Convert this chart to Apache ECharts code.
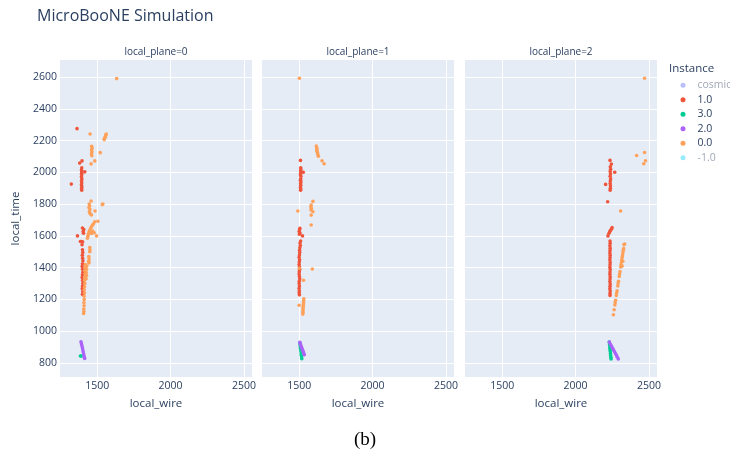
<!DOCTYPE html>
<html>
<head>
<meta charset="utf-8">
<script src="https://cdn.jsdelivr.net/npm/echarts@6/dist/echarts.min.js"></script>
<style>
  html, body { margin: 0; padding: 0; background: #fff; }
  #chart { width: 730px; height: 458px; }
</style>
</head>
<body>
<div id="chart"></div>
<script>
"use strict"

const instNames = ["cosmic", "1.0", "3.0", "2.0", "0.0", "-1.0"];
const instColors = ["#636EFA", "#EF553B", "#00CC96", "#AB63FA", "#FFA15A", "#19D3F3"];
const hiddenInst = ["cosmic", "-1.0"];
const planeTitles = ["local_plane=0", "local_plane=1", "local_plane=2"];
const xTicks = [1500, 2000, 2500];
const yTicks = [800, 1000, 1200, 1400, 1600, 1800, 2000, 2200, 2400, 2600];
const xRange = [1247, 2555];
const yRange = [712, 2707];

// plane 0
const p0_inst1 = [[1363,2275],[1397,2072],[1381,2058],[1395,2028],[1393,2015],[1396,2005],[1416,2003],[1394,1995],[1395,1985],
  [1393,1972],[1396,1960],[1394,1948],[1395,1935],[1393,1922],[1396,1910],[1394,1898],[1395,1888],[1324,1926],
  [1400,1650],[1409,1640],[1405,1628],[1407,1617],[1366,1600],[1386,1565],[1397,1565],[1401,1562],[1397,1544],
  [1400,1513],[1402,1495],[1399,1478],[1401,1460],[1403,1443],[1400,1425],[1398,1408],[1401,1390],[1403,1372],
  [1400,1355],[1398,1338],[1401,1320],[1403,1302],[1400,1285],[1399,1268],[1402,1250],[1400,1232]];
const p0_inst3 = [[1386,844],[1392,844]];
const p0_inst2 = [[1390,934],[1393,922],[1396,910],[1399,897],[1402,884],[1405,871],[1408,858],[1411,845],[1413,835],[1415,828]];
const p0_inst0 = [[1633,2590],[1452,2241],[1548,2206],[1551,2213],[1554,2221],[1557,2229],[1560,2236],[1562,2241],
  [1463,2164],[1466,2152],[1462,2140],[1465,2128],[1461,2116],[1464,2104],[1521,2124],[1459,2053],[1484,2072],
  [1459,1820],[1446,1801],[1449,1790],[1444,1778],[1451,1766],[1447,1752],[1452,1740],[1461,1732],[1486,1757],
  [1539,1801],[1535,1797],[1505,1692],
  [1434,1585],[1437,1598],[1440,1610],[1444,1622],[1449,1634],[1455,1646],[1461,1657],[1468,1667],[1475,1676],
  [1484,1689],[1480,1620],[1470,1630],[1462,1615],[1496,1600],
  [1450,1527],[1451,1512],[1450,1500],[1443,1470],[1445,1455],[1443,1440],[1444,1430],
  [1430,1410],[1428,1390],[1426,1370],[1428,1350],[1425,1330],[1420,1420],[1418,1400],[1416,1380],[1418,1360],
  [1416,1340],[1414,1320],[1416,1300],[1414,1280],[1412,1260],[1414,1240],[1411,1220],[1412,1200],[1410,1180],
  [1411,1160],[1409,1140],[1410,1125],[1408,1112]];

// plane 1
const p1_inst1 = [[1509,2075],[1511,2029],[1512,2018],[1510,2008],[1528,2001],[1511,1995],[1509,1985],[1512,1975],
  [1511,1960],[1509,1950],[1512,1940],[1510,1930],[1511,1918],[1509,1905],[1511,1895],[1510,1888],
  [1505,1648],[1503,1638],[1500,1628],[1506,1618],[1502,1610],[1523,1600],
  [1510,1568],[1506,1555],[1508,1540],[1505,1525],[1503,1510],[1504,1495],[1502,1480],[1500,1465],[1503,1450],
  [1501,1435],[1500,1420],[1502,1405],[1504,1390],[1501,1375],[1500,1360],[1502,1345],[1504,1330],[1501,1315],
  [1500,1300],[1502,1285],[1500,1270],[1501,1255],[1500,1242],[1502,1229]];
const p1_inst3 = [[1505,926],[1507,915],[1508,904],[1510,893],[1511,882],[1513,871],[1514,860],[1515,849],[1517,838],[1518,827]];
const p1_inst2 = [[1505,930],[1508,920],[1512,910],[1516,900],[1520,890],[1524,880],[1528,870],[1532,860],[1535,852]];
const p1_inst0 = [[1502,2592],[1617,2165],[1620,2155],[1622,2145],[1620,2135],[1625,2125],[1627,2112],[1631,2102],
  [1656,2073],[1670,2054],[1594,1817],[1582,1794],[1580,1783],[1583,1772],[1581,1763],[1594,1752],[1582,1731],
  [1582,1669],[1491,1757],[1590,1392],[1530,1321],[1502,1396],[1500,1164],
  [1532,1204],[1531,1192],[1530,1180],[1529,1168],[1528,1156],[1527,1144],[1526,1132],[1526,1120],[1525,1108]];

// plane 2
const p2_inst1 = [[2235,2075],[2244,2052],[2237,2035],[2239,2020],[2236,2005],[2267,2001],[2238,1990],[2236,1975],
  [2239,1960],[2237,1945],[2236,1930],[2238,1915],[2237,1900],[2236,1888],[2205,1924],[2219,1815],
  [2249,1652],[2244,1642],[2237,1633],[2232,1625],[2228,1616],[2221,1600],
  [2235,1568],[2236,1553],[2234,1538],[2236,1523],[2235,1508],[2234,1493],[2236,1478],[2235,1463],[2234,1448],
  [2236,1433],[2235,1418],[2234,1403],[2236,1388],[2235,1373],[2234,1358],[2236,1343],[2235,1328],[2234,1313],
  [2236,1298],[2235,1283],[2234,1268],[2236,1253],[2235,1238],[2235,1225]];
const p2_inst3 = [[2230,932],[2231,920],[2233,908],[2234,896],[2235,884],[2237,872],[2238,860],[2239,848],[2241,836],[2242,825]];
const p2_inst2 = [[2230,932],[2237,920],[2244,908],[2251,896],[2258,884],[2265,872],[2272,860],[2279,848],[2285,836],[2291,825]];
const p2_inst0 = [[2470,2592],[2470,2125],[2416,2106],[2477,2073],[2465,2054],[2307,1757],
  [2258,1104],[2263,1135],[2268,1165],[2273,1195],[2278,1225],[2283,1255],[2288,1285],[2293,1315],[2298,1345],
  [2303,1375],[2308,1405],[2313,1435],[2318,1465],[2323,1495],[2328,1520],[2335,1549],[2330,1545],[2325,1510],
  [2320,1480],[2315,1450],[2310,1420],[2300,1360],[2290,1300],[2280,1240],[2270,1180],[2318,1410],[2322,1440]];

const planeData = [
  { "1.0": p0_inst1, "3.0": p0_inst3, "2.0": p0_inst2, "0.0": p0_inst0 },
  { "1.0": p1_inst1, "3.0": p1_inst3, "2.0": p1_inst2, "0.0": p1_inst0 },
  { "1.0": p2_inst1, "3.0": p2_inst3, "2.0": p2_inst2, "0.0": p2_inst0 }
];

const FONT = "'Open Sans', Verdana, Arial, sans-serif";
const TXT = "#2a3f5f";
const gridLeft = [60, 262, 465];
const gridW = 192;

const grids = gridLeft.map(l => ({ left: l, top: 60, width: gridW, height: 317, show: true, backgroundColor: "#E5ECF6", borderWidth: 0 }));

const xAxes = gridLeft.map((l, i) => ({
  type: "value", gridIndex: i, min: xRange[0], max: xRange[1],
  axisLine: { show: false }, axisTick: { show: false, customValues: xTicks },
  axisLabel: { customValues: xTicks, formatter: v => String(v), color: TXT, fontSize: 10.5, fontFamily: FONT, margin: 4 },
  splitLine: { lineStyle: { color: "#fff", width: 1 } },
  name: "local_wire", nameLocation: "middle", nameGap: 21,
  nameTextStyle: { color: TXT, fontSize: 11.5, fontFamily: FONT }
}));

const yAxes = gridLeft.map((l, i) => ({
  type: "value", gridIndex: i, min: yRange[0], max: yRange[1],
  axisLine: { show: false }, axisTick: { show: false, customValues: yTicks },
  axisLabel: { show: i === 0, customValues: yTicks, formatter: v => String(v), color: TXT, fontSize: 10.5, fontFamily: FONT, margin: 3 },
  splitLine: { lineStyle: { color: "#fff", width: 1 } },
  name: i === 0 ? "local_time" : "", nameLocation: "middle", nameGap: 38,
  nameTextStyle: { color: TXT, fontSize: 11.5, fontFamily: FONT }
}));

const series = [];
instNames.forEach((name, k) =>
{
  if (hiddenInst.includes(name))
  {
    series.push({ type: "scatter", name, data: [], xAxisIndex: 0, yAxisIndex: 0, itemStyle: { color: instColors[k] } });
    return;
  }
  planeData.forEach((pd, p) =>
  {
    series.push({
      type: "scatter", name, xAxisIndex: p, yAxisIndex: p,
      data: pd[name], symbolSize: 3.6,
      itemStyle: { color: instColors[k], opacity: 1 }
    });
  });
});

const graphic = [
  { type: "text", left: 37, top: 8, style: { text: "MicroBooNE Simulation", font: "16px " + FONT, fill: TXT } },
  { type: "text", left: 669, top: 63, style: { text: "Instance", font: "11.5px " + FONT, fill: TXT } },
  { type: "text", x: 365, y: 440, style: { text: "(b)", font: "19px 'Liberation Serif', 'Times New Roman', serif", fill: "#000", align: "center", verticalAlign: "middle" } }
].concat(planeTitles.map((t, i) => ({
  type: "text", x: gridLeft[i] + gridW / 2, y: 52,
  style: { text: t, font: "10px " + FONT, fill: TXT, align: "center", verticalAlign: "middle" }
})));

const option = {
  animation: false,
  backgroundColor: "#fff",
  grid: grids,
  xAxis: xAxes,
  yAxis: yAxes,
  legend: {
    orient: "vertical", left: 675.5, top: 73,
    icon: "circle", itemWidth: 5, itemHeight: 5, itemGap: 0,
    textStyle: { color: TXT, fontSize: 10.5, fontFamily: FONT, lineHeight: 14.5, padding: [0, 0, 0, 7] },
    data: instNames.map(n => hiddenInst.includes(n)
      ? { name: n, itemStyle: { opacity: 0.45 }, textStyle: { color: "#a0a9b8" } }
      : { name: n })
  },
  graphic: graphic,
  series: series
};

const myChart = echarts.init(document.getElementById("chart"), null, { renderer: "canvas" });
myChart.setOption(option);
</script>
</body>
</html>
